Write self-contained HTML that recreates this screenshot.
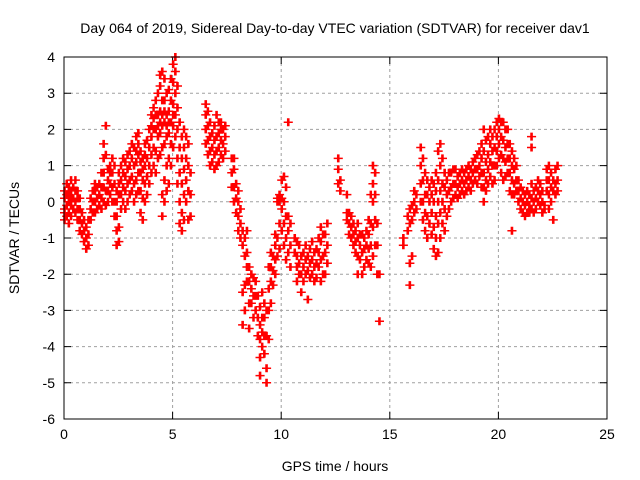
<!DOCTYPE html>
<html><head><meta charset="utf-8"><style>
html,body{margin:0;padding:0;background:#fff;}
svg{display:block;font-family:"Liberation Sans",sans-serif;}
</style></head><body>
<svg id="chart" width="640" height="480" viewBox="0 0 640 480" xmlns="http://www.w3.org/2000/svg">
<rect width="640" height="480" fill="#fff"/>
<text x="335" y="33" font-size="14" text-anchor="middle">Day 064 of 2019, Sidereal Day-to-day VTEC variation (SDTVAR) for receiver dav1</text>
<text x="0" y="0" font-size="14" text-anchor="middle" transform="translate(19,238) rotate(-90)">SDTVAR / TECUs</text>
<text x="335" y="471" font-size="14" text-anchor="middle">GPS time / hours</text>
<g id="grid"></g>
<g id="ticks"></g>
<g id="points"></g>
<rect x="64" y="57" width="543" height="362" fill="none" stroke="#000" stroke-width="1"/>
</svg>
<script>
const xTicks=[0,5,10,15,20,25];
const yTicks=[4,3,2,1,0,-1,-2,-3,-4,-5,-6];
const binWidth=0.1;
const groupHours=[0,0.1,0.2,0.3,0.4,0.5,0.6,0.7,0.8,0.9,1.0,1.1,1.2,1.3,1.4,1.5,1.6,1.7,1.8,1.9,2.0,2.1,2.2,2.3,2.4,2.5,2.6,2.7,2.8,2.9,3.0,3.1,3.2,3.3,3.4,3.5,3.6,3.7,3.8,3.9,4.0,4.1,4.2,4.3,4.4,4.5,4.6,4.7,4.8,4.9,5.0,5.1,5.2,5.3,5.4,5.5,5.6,5.7,5.8,
6.5,6.6,6.7,6.8,6.9,7.0,7.1,7.2,7.3,7.4,7.7,7.8,7.9,8.0,8.1,8.2,8.3,8.4,8.5,8.6,8.7,8.8,8.9,9.0,9.1,9.2,9.3,9.4,9.5,9.6,9.7,9.8,9.9,10.0,10.1,10.2,10.3,10.4,10.6,10.7,10.8,10.9,11.0,11.1,11.2,11.3,11.4,11.5,11.6,11.7,11.8,11.9,12.0,12.1,12.6,12.7,13.0,13.1,13.2,13.3,13.4,13.5,13.6,13.7,13.8,13.9,14.0,14.1,14.2,14.3,14.4,14.5,
15.6,15.8,15.9,16.0,16.1,16.2,16.4,16.5,16.6,16.7,16.8,16.9,17.0,17.1,17.2,17.3,17.4,17.5,17.6,17.7,17.8,17.9,18.0,18.1,18.2,18.3,18.4,18.5,18.6,18.7,18.8,18.9,19.0,19.1,19.2,19.3,19.4,19.5,19.6,19.7,19.8,19.9,20.0,20.1,20.2,20.3,20.4,20.5,20.6,20.7,20.8,20.9,21.0,21.1,21.2,21.3,21.4,21.5,21.6,21.7,21.8,21.9,22.0,22.1,22.2,22.3,22.4,22.5,22.6,22.7];
const groupValues=[
[-0.5,-0.3,-0.2,0.1,0.3],[-0.4,-0.1,0.2,0.5],[-0.6,-0.3,0,0.2,0.4],[-0.4,-0.1,0.1,0.3,0.6],[-0.2,0.1,0.4],[-0.3,0,0.3,0.6],[-0.5,-0.2,0.1,0.3],[-0.8,-0.5,-0.2,0.1],[-0.9,-0.6,-0.3],[-1.1,-0.8,-0.5],
[-1.3,-1.0,-0.7],[-1.2,-0.9,-0.5],[-0.5,-0.2,0.1],[-0.3,0,0.3],[-0.3,0,0.3,0.5],[-0.2,0.1,0.4],[-0.1,0.2,0.5],[-0.2,0.1,0.4,0.8],[0,0.4,0.8,1.2,1.6],[-0.1,0.3,1.3,2.1],
[0,0.3,0.6,0.9],[0.2,0.5,0.8,1.0],[0,0.4,0.8,1.2],[-0.4,0,0.5,1.0],[-1.2,-0.8,-0.4,0,0.3],[-1.1,-0.7,0.2,0.5,0.8],[-0.2,0.2,0.6,1.0],[0,0.4,0.8,1.2],[-0.2,0.3,0.7,1.1],[0,0.5,0.9,1.3],
[0.2,0.6,1.0,1.4],[0.3,0.7,1.2,1.6],[0,0.5,1.0,1.5],[0.2,0.6,1.1,1.4,1.8],[0.3,0.8,1.3,1.6,1.9],[-0.3,0.3,0.8,1.1,1.4],[-0.5,0.1,0.6,0.9,1.2],[0,0.5,1.0,1.3,1.6],[0.2,0.7,1.2,1.7],[0.5,1.0,1.5,2.0],
[0.8,1.3,1.8,2.1,2.4],[1.0,1.5,2.0,2.3,2.6],[0.8,1.4,2.0,2.4,2.8],[1.2,1.8,2.1,2.4,3.0],[1.3,1.9,2.2,2.5,3.2,3.5],[-0.4,0.2,1.5,2.1,2.4,2.8,3.6],[0,0.6,1.6,2.2,2.5,2.8,3.4],[0.3,1.0,1.8,2.1,2.4,3.0],[0.5,1.2,1.9,2.2,2.5,3.1],[1.0,1.6,2.2,2.8,3.4],
[1.5,2.1,2.4,2.7,3.3,3.8],[1.8,2.4,3.0,3.6,4.0],[0.5,1.2,2.0,2.6,3.2],[-0.6,0,0.8,1.5,2.2],[-0.8,-0.3,0.5,1.2,1.8],[-0.5,0.2,0.9,1.5,2.0],[0,0.6,1.2,1.8],[-0.5,0.3,1.0,1.6],[-0.4,0.2,0.8],
[1.6,2.0,2.4,2.7],[1.3,1.7,2.1,2.5],[1.0,1.4,1.8,2.2],[1.1,1.5,1.9],[0.9,1.3,1.7,2.1],[1.0,1.4,1.8,2.4],[1.1,1.5,1.9,2.2],[1.3,1.7,2.0,2.2],[1.2,1.6,2.0],[1.4,1.8,2.1],
[0.4,0.8,1.2],[0,0.4,0.9,1.2],[-0.3,0.1,0.5],[-0.8,-0.4,0,0.3],[-1.0,-0.6,-0.2],[-3.4,-2.5,-1.2,-0.8],[-3.0,-2.3,-1.5,-1.0],[-2.2,-1.8,-1.4,-0.8],[-3.5,-2.8,-2.2,-1.8],[-2.8,-2.4,-2.0],
[-3.2,-2.6,-2.1],[-3.0,-2.6,-2.2],[-3.7,-3.2,-2.6],[-4.3,-3.8,-3.4,-2.9,-4.8],[-4.0,-3.6,-3.2,-2.5],[-4.2,-3.7,-3.2,-2.8],[-5.0,-4.6,-3.7,-3.0],[-3.8,-3.0,-2.4,-1.8],[-2.8,-2.2,-1.8,-1.4],[-2.3,-1.9,-1.5],
[-2.0,-1.6,-1.2,-0.9],[-1.5,-1.0,0,0.1],[-1.3,-0.6,0,0.2],[-0.8,-0.2,0.1,0.6],[-1.2,-0.6,0,0.7],[-1.6,-1.0,-0.4,0.4],[-1.4,-0.8,-0.4,2.2],[-1.8,-1.2,-0.6],[-1.4,-1.0],[-2.2,-1.8,-1.5,-1.1],
[-2.0,-1.7,-1.2],[-2.5,-2.0,-1.5],[-2.2,-1.8,-1.4],[-2.0,-1.6,-1.2],[-2.7,-1.9,-1.5],[-2.1,-1.7,-1.3],[-2.0,-1.6,-1.1],[-2.2,-1.8,-1.4],[-2.1,-1.7,-1.3],[-1.8,-1.4,-1.0],
[-2.2,-1.6,-1.1,-0.7],[-2.0,-1.5,-0.9],[-2.0,-1.4,-0.9],[-1.7,-1.2,-0.6],[0.5,0.9,1.2],[0.3,0.6],[-0.5,-0.3,0.2],[-0.9,-0.6,-0.3],[-1.0,-0.7,-0.4],[-1.2,-0.9,-0.6],
[-1.4,-1.1,-0.8],[-2.0,-1.5,-1.0,-0.6],[-1.6,-1.2,-0.9],[-2.0,-1.4,-0.9],[-1.8,-1.3,-1.0],[-1.6,-1.2,-0.8],[-1.7,-1.3,-0.9,-0.5],[-1.8,-1.2,-0.6,0.2],[-1.5,-0.7,0,0.5,1.0],[-1.2,-0.5,0.2,0.8],
[-2.0,-1.2,-0.6],[-3.3,-2.0],
[-1.2,-1.0],[-0.8,-0.4],[-2.3,-1.7,-0.6,-0.2],[-1.5,-0.5,-0.1],[-0.3,0,0.3],[-0.2,0.2],[0,0.5,1.0,1.5],[-0.5,0,0.6,1.2],[-0.8,-0.3,0.2,0.8],[-1.0,-0.4,0.2,0.6],
[-0.6,0,0.4],[-0.9,-0.3,0.2,0.6],[-1.3,-0.7,0,0.5],[-1.5,-1.0,-0.4,0.3,0.8],[-1.4,-0.6,0,0.6,1.4],[-1.0,-0.3,0.3,1.0,1.6],[-0.6,0,0.5,1.2],[-0.8,-0.2,0.4,0.8],[-0.4,0.2,0.6],[-0.2,0.3,0.8],
[0,0.4,0.8],[0.1,0.5,0.9],[0.2,0.5,0.9],[0.1,0.4,0.7],[0.2,0.5,0.8],[0.3,0.6,0.9],[0.2,0.5,0.8],[0.3,0.6,0.9],[0.4,0.7,1.0],[0.3,0.6,0.9],
[0.5,0.8,1.1],[0.6,0.9,1.2],[0.5,0.9,1.3],[0.7,1.0,1.4],[0.4,0.8,1.2,1.6],[0,0.4,0.8,1.4,2.0],[0.3,0.6,1.1,1.7],[0.5,0.9,1.3,1.8],[0.7,1.1,1.6,2.0],[0.5,1.0,1.4,1.8],
[0.6,1.0,1.5,2.0],[1.0,1.4,1.8,2.2],[1.2,1.6,2.0,2.3],[0.8,1.3,1.8,2.2],[0.6,1.2,1.7,2.2],[0.7,1.1,1.5,2.0],[0.8,1.2,1.6,2.0],[0.3,0.8,1.2,1.6],[-0.8,0.2,0.6,1.0,1.4],[0.2,0.5,0.9,1.2],
[0.3,0.6,1.0],[0,0.3,0.6],[-0.2,0.1,0.4],[-0.3,0,0.3],[-0.4,-0.1,0.2],[-0.3,0,0.3],[-0.3,-0.1,0.2],[-0.2,0.1,0.5,1.5,1.8],[-0.3,0,0.3],[-0.2,0.1,0.4],
[0,0.3,0.6],[-0.1,0.2,0.5],[-0.3,0,0.3],[-0.2,-0.1],[0.3,0.6,0.9],[-0.2,0.2,0.6,1.0],[0,0.4,0.8],[-0.5,0.3,0.6],[0.2,0.5,0.9],[0.3,0.6,1.0]
];
const X0=64,X1=607,Y0=419,Y1=57;
function xs(h){return X0+(h-0)/(25-0)*(X1-X0);}
function ys(v){return Y0-(v-(-6))/(4-(-6))*(Y0-Y1);}
const NS='http://www.w3.org/2000/svg';
const grid=document.getElementById('grid'),ticks=document.getElementById('ticks'),pts=document.getElementById('points');
xTicks.forEach(t=>{
  const x=xs(t);
  if(t>0&&t<25){const g=document.createElementNS(NS,'line');
    
    
    g.setAttribute('x1',x);g.setAttribute('x2',x);g.setAttribute('y1',Y1);g.setAttribute('y2',Y0);
    g.setAttribute('stroke','#a0a0a0');g.setAttribute('stroke-dasharray','3,3');grid.appendChild(g);}
  const tk=document.createElementNS(NS,'path');
  
  
  tk.setAttribute('d',`M${x},${Y0}v-7M${x},${Y1}v7`);tk.setAttribute('stroke','#000');ticks.appendChild(tk);
  const tl=document.createElementNS(NS,'text');
  
  
  tl.setAttribute('x',x);tl.setAttribute('y',Y0+20);tl.setAttribute('font-size','14');tl.setAttribute('text-anchor','middle');
  tl.textContent=t;ticks.appendChild(tl);
});
yTicks.forEach(t=>{
  const y=ys(t);
  if(t>-6&&t<4){const g=document.createElementNS(NS,'line');
    
    
    g.setAttribute('x1',X0);g.setAttribute('x2',X1);g.setAttribute('y1',y);g.setAttribute('y2',y);
    g.setAttribute('stroke','#a0a0a0');g.setAttribute('stroke-dasharray','3,3');grid.appendChild(g);}
  const tk=document.createElementNS(NS,'path');
  
  
  tk.setAttribute('d',`M${X0},${y}h7M${X1},${y}h-7`);tk.setAttribute('stroke','#000');ticks.appendChild(tk);
  const tl=document.createElementNS(NS,'text');
  
  
  tl.setAttribute('x',X0-9);tl.setAttribute('y',y+5);tl.setAttribute('font-size','14');tl.setAttribute('text-anchor','end');
  tl.textContent=t;ticks.appendChild(tl);
});
let d='';
groupHours.forEach((h,i)=>{
  const xa=xs(h),xb=xs(h+binWidth*0.5);
  groupValues[i].forEach(v=>{
    const y=ys(v);
    [xa,xb].forEach(x=>{
      d+=`M${(x-4).toFixed(1)},${y.toFixed(1)}h8M${x.toFixed(1)},${(y-4).toFixed(1)}v8`;
    });
    d+=`M${xa.toFixed(1)},${(y+3).toFixed(1)}h${(xb-xa).toFixed(1)}`;
  });
});
const p=document.createElementNS(NS,'path');


p.setAttribute('d',d);p.setAttribute('stroke','#ff0000');p.setAttribute('stroke-width','1.5');p.setAttribute('fill','none');
pts.appendChild(p);
</script>
</body></html>
